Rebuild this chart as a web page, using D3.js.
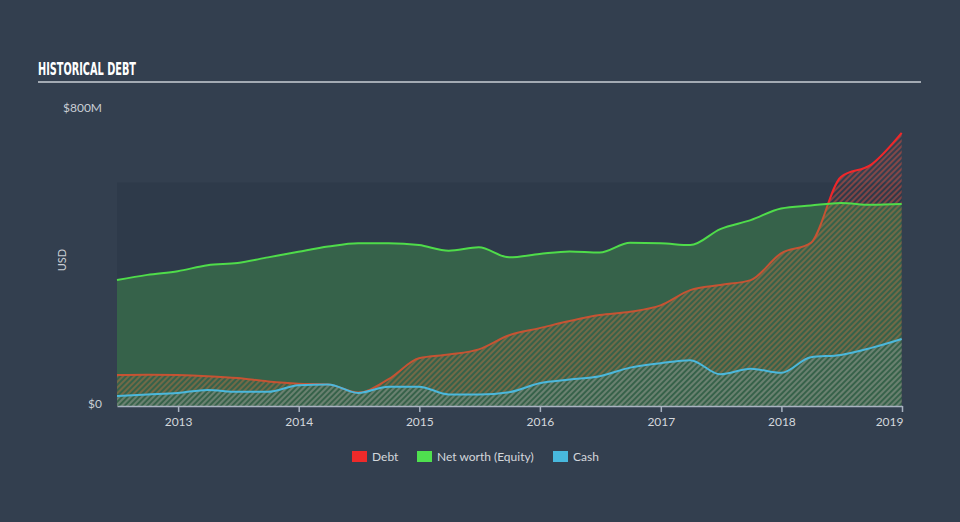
<!DOCTYPE html>
<html>
<head>
<meta charset="utf-8">
<script src="https://cdn.jsdelivr.net/npm/d3@7"></script>
<style>
  html, body { margin: 0; padding: 0; background: #333f4f; }
  svg { display: block; }
</style>
</head>
<body>
<svg id="chart" width="960" height="522"></svg>
<script>
// ---- data (USD millions) ----
const dates = ["2012-06-30","2012-09-30","2012-12-31","2013-03-31","2013-06-30","2013-09-30","2013-12-31",
  "2014-03-31","2014-06-30","2014-09-30","2014-12-31","2015-03-31","2015-06-30","2015-09-30","2015-12-31",
  "2016-03-31","2016-06-30","2016-09-30","2016-12-31","2017-03-31","2017-06-30","2017-09-30","2017-12-31",
  "2018-03-31","2018-06-30","2018-09-30","2018-12-31"];
const debt   = [83, 84, 83, 80, 75, 66, 60, 58, 36, 72, 128, 138, 152, 190, 209, 228, 244, 253, 270, 311, 325, 338, 410, 438, 615, 648, 733];
const equity = [338, 352, 362, 378, 384, 399, 414, 428, 437, 437, 432, 417, 426, 399, 408, 415, 412, 438, 437, 432, 475, 499, 530, 538, 545, 540, 542];
const cash   = [27, 31, 35, 43, 38, 38, 56, 58, 35, 52, 52, 31, 31, 37, 61, 71, 80, 103, 115, 123, 85, 100, 89, 131, 137, 156, 180];
const yearTicks = [2013, 2014, 2015, 2016, 2017, 2018, 2019];
const yTicks = [0, 800];
const legendItems = ["Debt", "Net worth (Equity)", "Cash"];

(function () {
const parse = d3.timeParse("%Y-%m-%d");
const rows = dates.map((d, i) => ({ date: parse(d), debt: debt[i], equity: equity[i], cash: cash[i] }));

const svg = d3.select("#chart");
const W = 960, H = 522;
const pLeft = 117, pRight = 902, pTop = 108, pBottom = 406;

svg.append("rect").attr("width", W).attr("height", H).attr("fill", "#333f4f");

const x = d3.scaleTime().domain([parse("2012-06-30"), parse("2019-01-01")]).range([pLeft, pRight]);
const y = d3.scaleLinear().domain([0, 800]).range([pBottom, pTop]);

// defs: hatch patterns
const defs = svg.append("defs");
function hatch(id, color) {
  const p = defs.append("pattern").attr("id", id).attr("patternUnits", "userSpaceOnUse")
    .attr("width", 4).attr("height", 4).attr("patternTransform", "rotate(45)");
  p.append("line").attr("x1", 1).attr("y1", 0).attr("x2", 1).attr("y2", 4)
    .attr("stroke", color).attr("stroke-width", 1.6);
}
hatch("hatchRed", "rgba(235,80,60,0.55)");
hatch("hatchBlue", "rgba(80,185,215,0.36)");

// Title
svg.append("text").attr("x", 38).attr("y", 75).text("HISTORICAL DEBT")
  .attr("fill", "#ffffff").attr("font-family", "'Liberation Sans Narrow','DejaVu Sans Condensed','Roboto',sans-serif")
  .attr("font-weight", "bold").attr("font-size", 17)
  .attr("textLength", 98).attr("lengthAdjust", "spacingAndGlyphs");
svg.append("line").attr("x1", 38).attr("x2", 921).attr("y1", 82).attr("y2", 82)
  .attr("stroke", "#a3aab3").attr("stroke-width", 2);

// plot band
svg.append("rect").attr("x", pLeft).attr("y", y(600)).attr("width", pRight - pLeft).attr("height", y(0) - y(600))
  .attr("fill", "#2e3a4a");

const curve = d3.curveMonotoneX;
function areaOf(key) { return d3.area().x(d => x(d.date)).y0(y(0)).y1(d => y(d[key])).curve(curve); }
function lineOf(key) { return d3.line().x(d => x(d.date)).y(d => y(d[key])).curve(curve); }

// Debt
svg.append("path").datum(rows).attr("d", areaOf("debt")).attr("fill", "url(#hatchRed)");
svg.append("path").datum(rows).attr("d", lineOf("debt")).attr("fill", "none").attr("stroke", "#f0272a").attr("stroke-width", 2);

// Equity
svg.append("path").datum(rows).attr("d", areaOf("equity")).attr("fill", "rgba(78,214,78,0.26)");
svg.append("path").datum(rows).attr("d", lineOf("equity")).attr("fill", "none").attr("stroke", "#4fdc4a").attr("stroke-width", 2);

// Cash
svg.append("path").datum(rows).attr("d", areaOf("cash")).attr("fill", "url(#hatchBlue)");
svg.append("path").datum(rows).attr("d", lineOf("cash")).attr("fill", "none").attr("stroke", "#4bb8dc").attr("stroke-width", 2);

// x axis
const xAxis = d3.axisBottom(x)
  .tickValues(yearTicks.map(yr => new Date(yr, 0, 1)))
  .tickFormat(d3.timeFormat("%Y")).tickSize(6).tickSizeOuter(0);
const gx = svg.append("g").attr("transform", `translate(0,${pBottom})`).call(xAxis);
gx.select(".domain").attr("stroke", "#a9b3c1").attr("stroke-width", 1.5);
gx.selectAll(".tick line").attr("stroke", "#a9b3c1").attr("stroke-width", 1.5);
gx.selectAll(".tick text").attr("fill", "#d3d7dc").attr("font-size", 12)
  .attr("font-family", "Lato, 'Open Sans', sans-serif").attr("dy", "0.9em");
gx.selectAll(".tick text").filter((d, i, n) => i === n.length - 1).attr("text-anchor", "end").attr("dx", 1);

// y labels
svg.selectAll(".ylab").data(yTicks).enter().append("text")
  .attr("x", 102).attr("y", d => d === 0 ? y(d) - 2 : y(d))
  .attr("dy", "0.35em").attr("text-anchor", "end")
  .attr("fill", "#c9ced4").attr("font-size", 12).attr("font-family", "Lato, 'Open Sans', sans-serif")
  .text(d => d === 0 ? "$0" : `$${d}M`);
svg.append("text").attr("transform", "translate(66,260) rotate(-90)").attr("text-anchor", "middle")
  .attr("fill", "#c9ced4").attr("font-size", 11).attr("font-family", "Lato, 'Open Sans', sans-serif").text("USD");

// legend
const legendColors = ["#ee2a2a", "#4fe04f", "#48b8dd"];
const legendX = [352, 417, 553];
const lg = svg.append("g");
legendItems.forEach((name, i) => {
  lg.append("rect").attr("x", legendX[i]).attr("y", 451).attr("width", 15).attr("height", 11).attr("fill", legendColors[i]);
  lg.append("text").attr("x", legendX[i] + 20).attr("y", 456.5).attr("dy", "0.35em")
    .attr("fill", "#d3d7dc").attr("font-size", 12).attr("font-family", "Lato, 'Open Sans', sans-serif").text(name);
});
})();
</script>
</body>
</html>
